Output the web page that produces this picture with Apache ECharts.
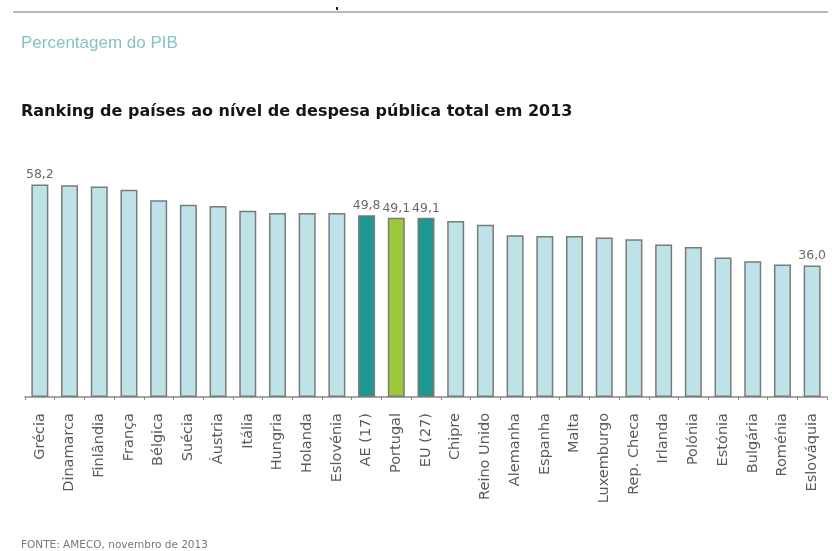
<!DOCTYPE html>
<html>
<head>
<meta charset="utf-8">
<script src="https://cdn.jsdelivr.net/npm/echarts@6/dist/echarts.min.js"></script>
<style>html,body{margin:0;padding:0;background:#fff}#c{width:832px;height:551px}</style>
</head>
<body>
<div id="c"></div>
<script>
const categories = ["Grécia","Dinamarca","Finlândia","França","Bélgica","Suécia","Áustria","Itália","Hungria","Holanda","Eslovénia","AE (17)","Portugal","EU (27)","Chipre","Reino Unido","Alemanha","Espanha","Malta","Luxemburgo","Rep. Checa","Irlanda","Polónia","Estónia","Bulgária","Roménia","Eslováquia"];
const values = [58.2,58.0,57.7,56.8,53.9,52.7,52.3,51.0,50.4,50.4,50.4,49.8,49.1,49.1,48.2,47.2,44.3,44.1,44.1,43.7,43.2,41.8,41.1,38.2,37.2,36.3,36.0];
const labelled = ["Grécia","AE (17)","Portugal","EU (27)","Eslováquia"];

const colorFor = name => name === "Portugal" ? "#9bc83c" : (name === "AE (17)" || name === "EU (27)") ? "#1f9894" : "#bde2e8";

const chart = echarts.init(document.getElementById('c'));
chart.setOption({
  backgroundColor: '#fff',
  animation: false,
  title: [
    {text: 'Percentagem do PIB', left: 16, top: 30, textStyle: {fontFamily: 'Liberation Sans, Arial', fontSize: 17, fontWeight: 'normal', color: '#86c2c6'}},
    {text: 'Ranking de países ao nível de despesa pública total em 2013', left: 16, top: 99, textStyle: {fontFamily: 'DejaVu Sans', fontSize: 16, fontWeight: 'bold', color: '#151515'}},
    {text: 'FONTE: AMECO, novembro de 2013', left: 16, top: 535, textStyle: {fontFamily: 'DejaVu Sans', fontSize: 10.5, fontWeight: 'normal', color: '#777'}}
  ],
  graphic: [
    {type: 'line', shape: {x1: 13, y1: 12, x2: 828, y2: 12}, style: {stroke: '#8fa6a8', lineWidth: 1.5}},
    {type: 'rect', shape: {x: 336, y: 7, width: 2, height: 3}, style: {fill: '#222'}}
  ],
  grid: {left: 25, right: 5, top: 178, bottom: 154, containLabel: false},
  xAxis: {
    type: 'category', data: categories,
    axisLine: {lineStyle: {color: '#888', width: 1.5}},
    axisTick: {show: true, alignWithLabel: false, lineStyle: {color: '#888'}, length: 3},
    axisLabel: {rotate: 90, interval: 0, fontFamily: 'DejaVu Sans', fontSize: 14.5, color: '#5a5a5a', margin: 16}
  },
  yAxis: {type: 'value', min: 0, max: 60, show: false, splitLine: {show: false}},
  series: [{
    type: 'bar', barWidth: 17,
    data: categories.map((c, i) => ({
      value: values[i],
      itemStyle: {color: colorFor(c), borderColor: '#7a7a7a', borderWidth: 1.5},
      label: {show: labelled.includes(c)}
    })),
    label: {position: 'top', distance: 3, fontFamily: 'DejaVu Sans', fontSize: 12.5, color: '#6a6a6a',
      formatter: p => p.value.toFixed(1).replace('.', ',')}
  }]
});
</script>
</body>
</html>
